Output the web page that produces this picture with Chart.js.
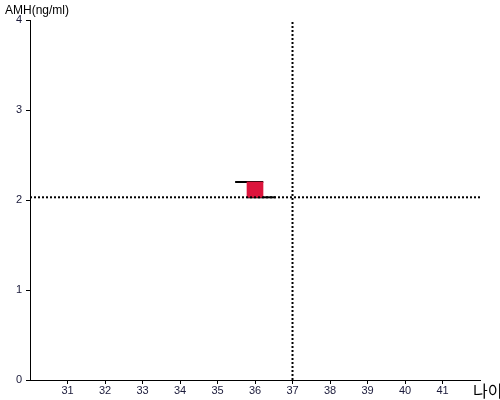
<!DOCTYPE html>
<html><head><meta charset="utf-8">
<script src="https://cdn.jsdelivr.net/npm/chart.js@4/dist/chart.umd.min.js"></script>
<style>html,body{margin:0;padding:0;background:#fff}#wrap{width:500px;height:400px}</style>
</head><body><div id="wrap"><canvas id="c"></canvas></div>
<script>
const xTickValues = [31,32,33,34,35,36,37,38,39,40,41];
const yTickValues = [0,1,2,3,4];
const xRange = [30, 42];
const yRange = [0, 4];
const refAge = 37;
const refAMH = 2.03;
const patientAge = 36;
const amhRange = [2.03, 2.2];
const topBar = [[35.47, 2.2], [36.22, 2.2]];
const bottomBar = [[35.8, 2.03], [36.55, 2.03]];

const titles = {
  id: 'titles',
  afterDraw(chart) {
    const ctx = chart.ctx;
    ctx.save();
    ctx.fillStyle = '#000';
    ctx.textBaseline = 'middle';
    ctx.font = '12px "Liberation Sans", Arial, sans-serif';
    ctx.textAlign = 'left';
    ctx.fillText('AMH(ng/ml)', 5, 11);
    ctx.font = '16px "Noto Sans CJK KR", sans-serif';
    ctx.fillText('나이', 473, 391);
    ctx.restore();
  }
};

new Chart(document.getElementById('c'), {
  data: {
    datasets: [
      { type: 'line', data: [{x: xRange[0], y: refAMH}, {x: xRange[1], y: refAMH}], borderColor: '#000', borderWidth: 2, borderDash: [2,2], pointRadius: 0 },
      { type: 'line', data: [{x: refAge, y: yRange[0]}, {x: refAge, y: yRange[1]}], borderColor: '#000', borderWidth: 2, borderDash: [2,2], pointRadius: 0 },
      { type: 'bar', data: [{x: patientAge, y: amhRange}], backgroundColor: '#dc143c', borderWidth: 0, barThickness: 16 },
      { type: 'line', data: topBar.map(p => ({x: p[0], y: p[1]})), borderColor: '#000', borderWidth: 2, pointRadius: 0 },
      { type: 'line', data: bottomBar.map(p => ({x: p[0], y: p[1]})), borderColor: '#000', borderWidth: 2, pointRadius: 0 }
    ]
  },
  options: {
    responsive: true, maintainAspectRatio: false, animation: false,
    layout: { padding: { left: 0, right: 20, top: 20, bottom: 0 } },
    plugins: { legend: { display: false }, tooltip: { enabled: false } },
    scales: {
      x: {
        type: 'linear', min: xRange[0], max: xRange[1], offset: false,
        afterBuildTicks: s => { s.ticks = xTickValues.map(v => ({value: v})); },
        afterFit: s => { s.height = 20; },
        grid: { offset: false, drawOnChartArea: false, drawTicks: true, tickLength: 4, color: '#000' },
        border: { display: true, color: '#000', width: 1 },
        ticks: { color: '#1a1a3a', padding: 0, maxRotation: 0, autoSkip: false, font: { size: 11, family: '"Liberation Sans", Arial, sans-serif' } }
      },
      y: {
        type: 'linear', min: yRange[0], max: yRange[1],
        afterBuildTicks: s => { s.ticks = yTickValues.map(v => ({value: v})); },
        afterFit: s => { s.width = 30; },
        grid: { drawOnChartArea: false, drawTicks: true, tickLength: 4, color: '#000' },
        border: { display: true, color: '#000', width: 1 },
        ticks: { color: '#1a1a3a', padding: 4, font: { size: 11, family: '"Liberation Sans", Arial, sans-serif' } }
      }
    }
  },
  plugins: [titles]
});
</script></body></html>
